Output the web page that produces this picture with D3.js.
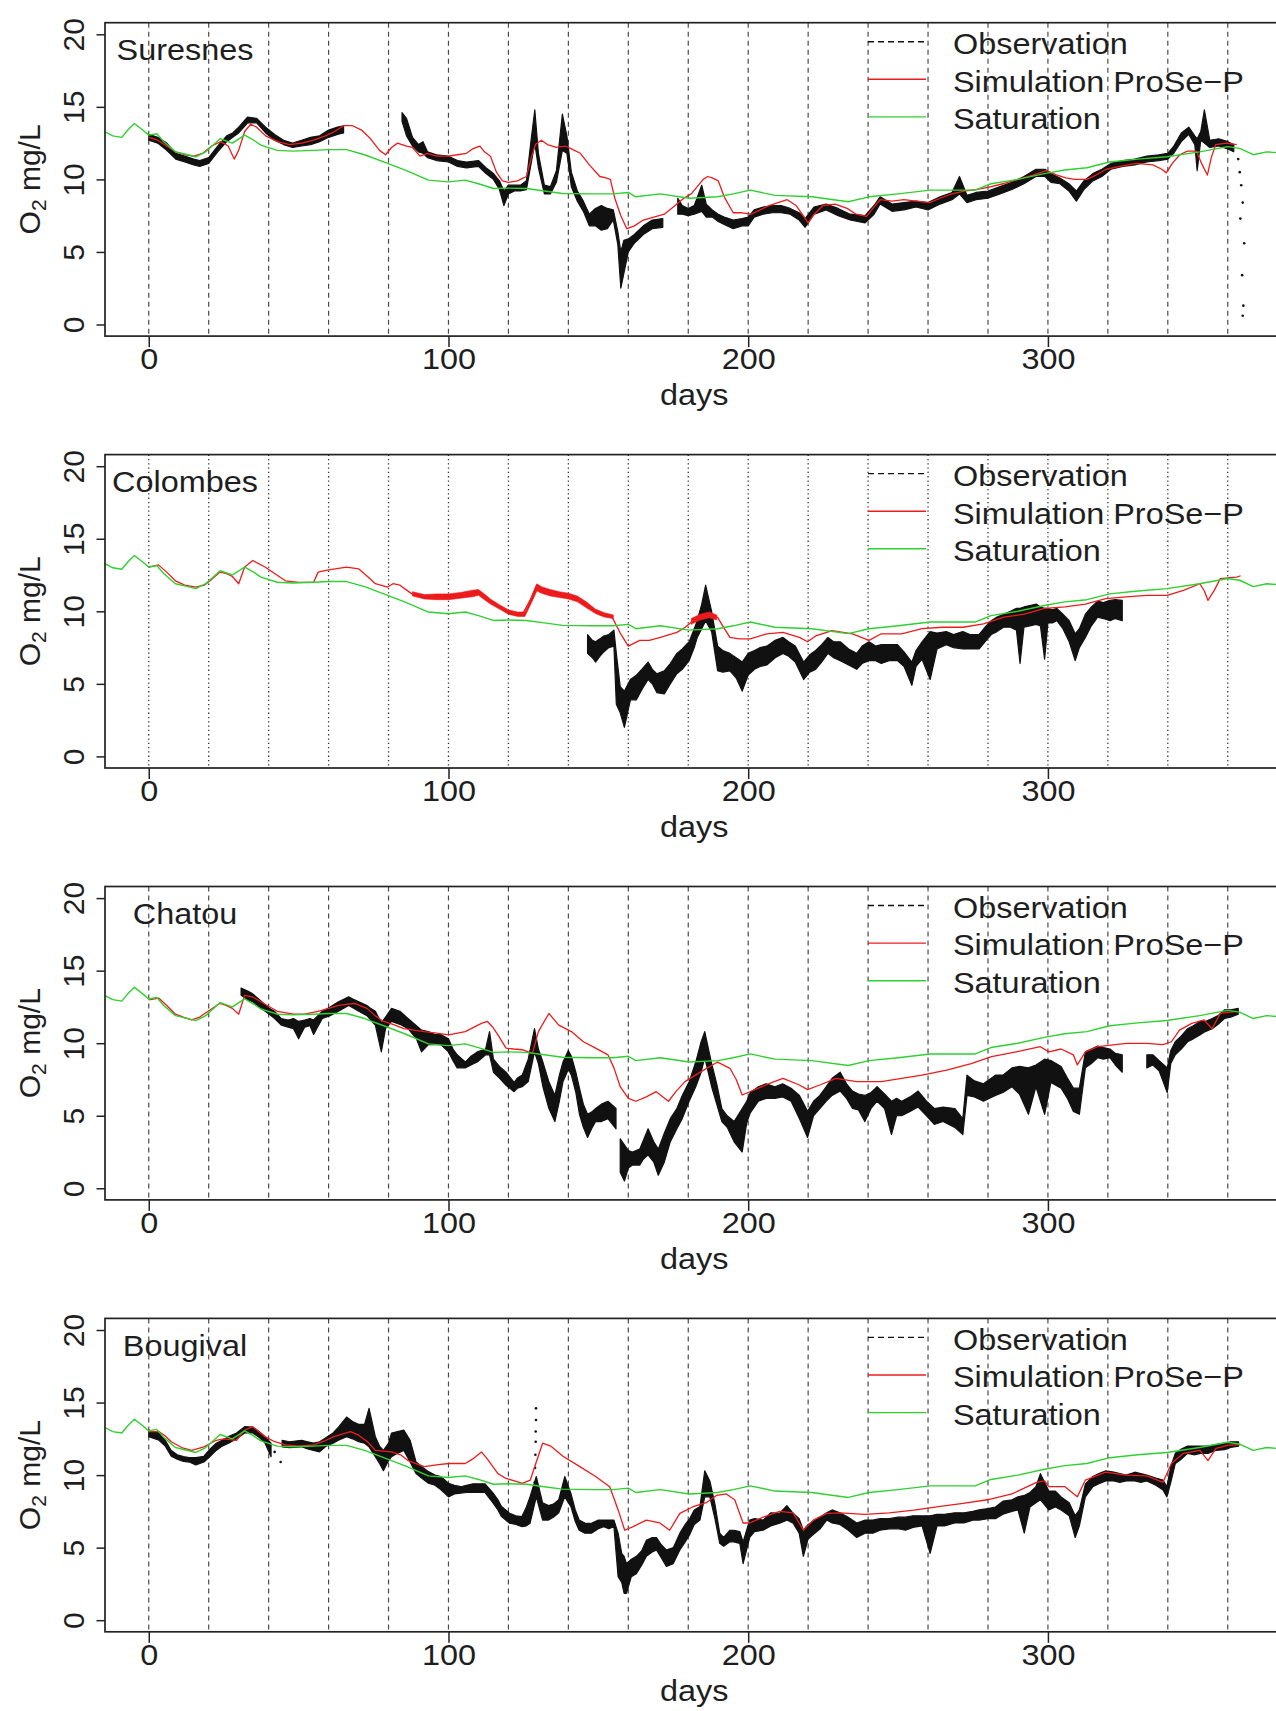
<!DOCTYPE html>
<html><head><meta charset="utf-8">
<script src="https://cdn.jsdelivr.net/npm/d3@7"></script>
<style>body{margin:0;background:#fff}svg{display:block}</style>
</head><body>
<svg id="chart" width="1276" height="1711"></svg>
<script>
// ---------------- DATA ----------------
const stations = ["Suresnes", "Colombes", "Chatou", "Bougival"];
const xTicks = [0, 100, 200, 300];
const yTicks = [0, 5, 10, 15, 20];
const gridDays = [0,20,40,60,80,100,120,140,160,180,200,220,240,260,280,300,320,340,360];
const legendLabels = ["Observation", "Simulation ProSe\u2212P", "Saturation"];
const xLabel = "days";

// Saturation O2 (shared by the four stations) [day, mg/L]
const saturation = [[-14.6,13.28],[-12,13.0],[-9,12.9],[-7,13.4],[-4.8,13.85],[-2,13.4],[0,13.05],[2.7,13.15],[5,12.6],[8.9,11.9],[12,11.75],[15.7,11.56],[19,11.9],[23.8,12.8],[27.9,12.5],[32,13.05],[35,12.7],[37.4,12.36],[42.9,12.0],[48,11.95],[55,12.0],[60,12.05],[66,12.05],[72,11.7],[79.7,11.1],[86,10.6],[93.3,9.95],[100,9.83],[105.6,9.95],[110,9.7],[115,9.37],[120,9.4],[126,9.37],[132,9.2],[138,9.03],[148,9.0],[155,9.0],[160,9.1],[162.5,8.8],[170.7,9.0],[180.3,8.7],[189.8,8.8],[195,9.0],[200.7,9.26],[208.9,8.9],[221.2,8.8],[233.4,8.46],[240.3,8.8],[250,9.0],[260.7,9.26],[275.7,9.26],[281,9.7],[290,10.0],[298.8,10.4],[305.6,10.65],[313,10.8],[320.6,11.2],[330,11.4],[339.7,11.56],[350.6,11.9],[360,12.26],[364,12.14],[368.5,11.7],[373,11.9],[378.6,11.8]];

// Simulation ProSe-P [day, mg/L]
const simSuresnes = [[0,12.9],[3,12.7],[6,12.3],[9,11.9],[12,11.7],[15,11.6],[18,11.8],[21,12.3],[24,12.6],[26.5,12.3],[28.5,11.4],[30,12.0],[32,13.3],[34,13.8],[36,13.6],[39,13.0],[43,12.6],[47,12.4],[51,12.5],[55,12.7],[59,13.0],[62,13.3],[65,13.7],[68,13.7],[71,13.4],[74,12.8],[77,12.0],[79,11.7],[81,12.2],[83,12.5],[86,12.3],[88,12.2],[90.5,11.6],[93,11.8],[96,11.6],[100,11.6],[103,11.7],[106,11.8],[108,12.1],[110.5,12.3],[112,11.9],[114,11.6],[116,10.5],[118,9.9],[120,9.8],[123,9.9],[126,10.2],[127.5,11.4],[129,12.4],[131,12.7],[133,12.4],[136,12.2],[139,12.3],[141,12.1],[144,11.8],[147,11.0],[150.5,10.2],[152.5,10.1],[154,10.0],[155.5,8.7],[157.5,7.5],[159.5,6.6],[162,6.8],[165,7.2],[168.5,7.4],[172,7.6],[175,8.1],[178.5,8.7],[181,9.0],[183,9.5],[185,10.0],[186.5,10.2],[188,10.1],[190,9.9],[192,8.8],[195,7.7],[198,7.7],[201,7.6],[204,7.9],[207,8.2],[210,8.4],[213,8.6],[216,8.2],[218,7.6],[220,7.0],[222,7.6],[225,8.2],[229,8.3],[233,8.0],[236,7.6],[239.5,7.45],[242,8.1],[244,8.6],[248,8.5],[252,8.6],[256,8.5],[260.5,8.4],[264,8.7],[268,9.0],[272,9.2],[276,9.3],[280,9.45],[285,9.7],[290,10.0],[295,10.3],[299.5,10.6],[303,10.3],[306,10.1],[309,10.0],[313,10.0],[316,10.3],[319.5,10.7],[324,10.9],[329.5,11.1],[335,11.0],[338,10.7],[339.5,10.45],[341.5,11.1],[344,11.7],[346.5,11.95],[349.5,11.95],[351.5,11.0],[353.2,10.3],[354.5,11.5],[356,12.4],[359.5,12.5],[363,12.4]];
const simColombes = [[0,13.05],[3.2,13.2],[6,12.7],[8.9,12.1],[12,11.8],[15.7,11.67],[18.5,11.8],[21,12.2],[23.8,12.7],[26,12.6],[27.9,12.4],[30,11.9],[32,13.05],[34.7,13.5],[38.8,13.05],[42,12.6],[45.6,12.1],[50,12.0],[55,12.0],[56.5,12.7],[60,12.85],[66,13.05],[70,12.93],[73,12.4],[75.6,11.9],[79.7,11.67],[81.5,11.9],[83.8,11.8],[87.8,11.2],[91,11.0],[94.6,11.0],[100,11.0],[105.6,11.1],[109.6,11.35],[111.5,11.1],[113.7,10.66],[116,10.4],[119,10.0],[122,9.8],[124.6,9.77],[127.3,10.8],[129.4,11.8],[132.8,11.4],[138.2,11.1],[142,10.9],[146.4,10.3],[150.5,9.77],[154.6,9.6],[157.3,8.5],[160,7.6],[163.8,8.0],[167,8.0],[170.7,8.2],[176.2,8.55],[179,8.9],[181.6,9.35],[184,9.6],[187,9.8],[189.8,9.58],[191.5,9.0],[193.9,8.2],[197,8.1],[200.7,8.1],[206.2,8.45],[211.6,8.55],[217.1,8.2],[219.8,7.9],[222.5,8.3],[228,8.67],[234.8,8.45],[240.3,8.0],[244.4,8.45],[251.2,8.45],[258,8.8],[264.8,8.9],[271.7,8.9],[278.5,9.14],[285.3,9.6],[292.1,9.8],[298.9,10.2],[305.7,10.3],[312.5,10.5],[319.3,10.87],[326.1,11.0],[333,11.1],[339.8,11.1],[345.2,11.44],[350.7,11.9],[352.2,11.4],[353.4,10.75],[355.5,11.44],[357.5,12.25],[360,12.3],[363,12.36],[364.3,12.45]];
const simChatou = [[0,12.98],[3.4,13.1],[6,12.6],[8.9,12.0],[11.5,11.8],[14.3,11.6],[17,11.8],[19.8,12.2],[23.8,12.75],[25.8,12.6],[27.9,12.4],[30,12.0],[32,13.3],[34.5,13.2],[37.4,12.86],[42.9,12.2],[48.3,12.0],[52,12.0],[56.5,12.2],[60,12.4],[63.3,12.6],[68.7,12.75],[72.8,12.4],[75.5,11.9],[78.3,11.5],[81.5,11.3],[85.1,11.0],[91.9,10.8],[96,10.7],[100,10.57],[105.6,10.8],[111,11.37],[113,11.5],[114.8,11.1],[116.5,10.57],[119.2,9.66],[121.8,9.6],[124.6,9.55],[128,9.3],[130,10.8],[133.5,12.05],[136.8,11.25],[141,10.8],[145,10.1],[149.1,9.66],[153.2,9.2],[155.2,8.3],[157.3,7.0],[160,6.2],[162.5,6.0],[166,6.3],[169.3,6.66],[173.4,6.0],[176,6.7],[178.9,7.35],[184.3,8.04],[189.8,8.7],[193.9,8.27],[196,7.5],[198,6.43],[203.4,6.9],[208,7.3],[211.6,7.58],[217.1,7.12],[219.8,6.8],[223.9,7.12],[229.3,7.58],[236.2,7.35],[244.4,7.35],[251.2,7.58],[258,7.8],[266.2,8.15],[274.4,8.6],[281.2,9.07],[289.4,9.4],[297.5,9.76],[300.3,9.4],[304.4,9.6],[308.5,9.2],[309.8,8.5],[312.5,9.4],[316.6,9.76],[326.2,9.99],[333,9.99],[338.4,9.9],[341.2,10.1],[343.9,10.9],[348,11.37],[352.1,11.6],[354.8,11.0],[357.5,12.06],[363,12.2]];
const simBougival = [[0,13.0],[3.4,13.0],[5.5,12.7],[7.5,12.3],[11,11.9],[14.3,11.7],[18.4,11.95],[22.5,12.4],[25,12.5],[29.3,12.4],[32,13.1],[34.7,13.34],[38.8,12.65],[42,12.3],[45.6,12.08],[50,12.0],[55,12.08],[58,12.3],[61.8,12.65],[67.3,13.0],[70,12.75],[73,12.3],[75.6,11.7],[81,11.6],[84,11.4],[86.5,11.0],[91.9,10.58],[96,10.7],[100,10.8],[105.6,10.8],[108,11.1],[111,11.6],[113,11.1],[116.5,10.1],[119.2,9.77],[122,9.6],[124.6,9.43],[127.3,9.66],[129.3,10.9],[131.4,12.2],[134.1,12.0],[138.2,11.3],[143.7,10.6],[149.1,9.9],[153.8,9.2],[156.6,7.6],[158.8,6.2],[161.6,6.45],[166,6.9],[170.5,6.7],[173.8,6.2],[177.2,7.36],[181.6,7.82],[186,8.1],[189.4,8.6],[192.7,8.7],[195.5,8.3],[198.3,6.7],[200.5,6.7],[205,7.1],[210.5,7.5],[215,7.4],[218.4,6.2],[221.7,6.9],[226.2,7.36],[230.6,7.4],[238.9,7.3],[247.1,7.4],[255.3,7.59],[263.5,7.82],[271.7,8.05],[279.8,8.3],[288,8.7],[296.2,9.5],[298.9,9.6],[300.3,9.2],[305.7,9.2],[309.8,8.5],[312.5,9.66],[319.3,10.2],[326.1,10.0],[333,9.95],[338.4,9.5],[341.2,10.8],[345.2,11.5],[350.7,11.7],[353.4,11.0],[356.1,11.85],[360.2,12.07],[364.3,12.1]];
// noisy part of the Colombes simulation [day, low, high]
const simBandColombes = [[88,11.05,11.35],[92,10.85,11.15],[96,10.8,11.2],[100,10.8,11.2],[104,10.9,11.3],[108,11.0,11.45],[110,11.1,11.5],[112,10.8,11.2],[114,10.5,10.85],[117,10.15,10.45],[120,9.8,10.1],[123,9.65,9.95],[125.5,9.65,9.95],[127.5,10.5,10.9],[129.5,11.4,11.9],[131,11.25,11.7],[134,11.05,11.5],[137,10.95,11.35],[140,10.85,11.25],[143,10.65,11.05],[146,10.25,10.65],[149,9.85,10.15],[152,9.6,9.9],[155,9.5,9.75],null,[181,9.1,9.5],[184,9.4,9.8],[187,9.55,9.95],[189.5,9.4,9.75]];

// Observations: envelope of the high-frequency record [day, low, high]; null = gap
const obsSuresnes = [[0,12.7,13.1],[3,12.5,12.9],[6,12.0,12.5],[9,11.4,11.8],[12,11.2,11.6],[15,11.0,11.4],[17,10.9,11.3],[20,11.1,11.5],[23,11.9,12.3],[26,12.6,13.0],[28,12.9,13.2],[30,13.2,13.6],[33,13.9,14.3],[36,13.9,14.2],[39,13.2,13.6],[42,12.7,13.1],[45,12.4,12.7],[48,12.2,12.5],[51,12.3,12.7],[54,12.4,12.9],[57,12.6,13.0],[60,12.9,13.4],[63,13.1,13.6],[65,13.2,13.7],null,
[84.5,14.0,14.6],[86,13.0,14.2],[88,12.3,12.9],[90,11.9,12.4],[91.5,11.8,12.6],[93,11.5,11.9],[96,11.3,11.7],[100,11.2,11.6],[103,10.9,11.3],[106,10.8,11.2],[110,10.9,11.3],[112.5,10.4,10.8],[115,10.0,10.4],[117,9.3,9.9],[118.5,8.2,9.2],[120,9.0,9.6],[122,9.2,9.6],[124,9.2,9.6],[126,9.3,9.9],[127.5,11.0,12.6],[128.8,12.5,14.8],[130,10.8,11.8],[132,9.0,9.6],[134,9.0,9.5],[136,9.8,10.6],[138,12.0,14.5],[139.5,11.8,13.0],[141,9.5,10.5],[143,8.5,9.2],[145,7.8,8.5],[147,6.8,7.6],[149,6.8,8.0],[151,6.5,8.2],[153,6.6,8.0],[155,7.2,7.9],[156.5,5.5,6.4],[157.5,2.5,5.0],[158.5,3.5,5.8],[160,5.0,5.9],[162,5.6,6.2],[165,6.2,6.8],[168,6.6,7.2],[171.5,6.7,7.3],null,
[176.5,7.6,8.7],[178,7.6,8.2],[180,7.5,8.0],[182,7.6,8.2],[184.5,7.8,9.6],[186,7.4,8.3],[188,7.4,7.9],[190,7.1,7.6],[192,6.9,7.4],[195,6.6,7.2],[198,6.8,7.3],[200,6.8,7.4],[202,7.4,7.9],[205,7.6,8.1],[208,7.7,8.2],[211,7.7,8.2],[214,7.6,8.0],[217,7.2,7.7],[219,6.7,7.3],[222,7.6,8.1],[226,7.9,8.3],[230,7.5,8.0],[234,7.2,7.6],[239,7.0,7.5],[242,7.6,8.2],[244,8.3,8.8],[248,7.8,8.3],[252,7.9,8.4],[256,8.1,8.5],[260,7.9,8.4],[264,8.3,8.8],[268,8.6,9.1],[270.5,9.0,10.2],[273,8.4,8.9],[276,8.6,9.1],[280,8.7,9.2],[284,9.0,9.5],[288,9.3,9.8],[292,9.7,10.2],[296,10.2,10.7],[299,10.2,10.7],[301,9.8,10.4],[304,9.7,10.1],[307,9.2,9.7],[309.5,8.5,9.2],[312,9.3,9.9],[315,9.9,10.4],[318,10.2,10.7],[321,10.7,11.1],[325,10.9,11.3],[329,11.0,11.4],[333,11.2,11.6],[337,11.3,11.7],[340,11.4,11.8],[342,11.8,12.3],[344.5,12.6,13.2],[347,13.1,13.6],[349,12.4,13.0],[349.8,10.6,12.8],[351,12.7,13.3],[352.2,12.5,14.8],[354,12.2,12.7],[357,12.3,12.8],[360,12.1,12.6],[362,11.9,12.4]];
const obsColombes = [[146.4,7.1,8.4],[148,6.8,8.0],[149.1,6.5,7.9],[150.5,6.9,8.1],[151.8,7.2,8.3],[153.5,7.5,8.4],[155.2,7.6,8.7],[156,3.6,7.1],[157.3,3.0,4.8],[158.7,2.0,4.5],[160.7,3.9,5.3],[162.7,3.9,5.6],[164.5,4.6,6.0],[166.6,5.3,6.5],[168,5.0,6.0],[169.5,4.4,5.7],[172,4.3,5.9],[174,5.0,6.4],[176.2,5.7,7.1],[178,6.0,7.4],[180.3,6.6,7.9],[182,7.5,8.8],[183,8.2,9.35],[184.5,8.8,10.5],[185.8,9.35,11.8],[187.8,8.6,10.0],[189.8,5.9,7.6],[191.5,5.8,7.3],[193.9,5.9,7.1],[196,5.4,6.8],[198,4.5,6.5],[200,5.6,7.1],[202.1,6.0,7.3],[204,6.2,7.5],[206.2,6.3,7.6],[209,6.8,8.0],[211.6,7.1,8.2],[213.5,6.9,7.9],[215.7,6.5,7.6],[218.5,5.3,6.5],[220.5,5.8,7.0],[222.5,6.0,7.3],[224.5,6.5,7.7],[226.6,7.1,8.2],[228.5,6.8,7.9],[230.7,6.6,7.9],[233.5,6.3,7.4],[236.2,6.0,7.1],[238,6.4,7.6],[240.3,6.6,7.9],[242.5,6.6,7.6],[244.4,6.4,7.7],[247,6.6,7.7],[249.8,6.6,7.7],[252,6.2,7.2],[254.6,4.9,6.5],[256,6.2,7.3],[258,6.7,7.9],[260.7,5.3,8.6],[263,7.4,8.5],[266.1,7.7,8.6],[268.5,7.5,8.4],[271.6,7.4,8.6],[274,7.4,8.4],[277,7.4,8.4],[279,7.9,8.9],[281.1,8.4,9.35],[283,8.6,9.6],[285.2,8.9,9.8],[287.5,8.9,10.0],[289.5,8.7,10.2],[290.7,6.4,10.2],[292,8.9,10.3],[294,9.0,10.4],[296.1,9.1,10.5],[297.5,9.0,10.3],[298.9,6.7,10.2],[300,9.2,10.2],[301.5,9.2,10.1],[303,9.35,10.2],[305,8.8,9.8],[307.1,7.9,9.35],[309.1,6.6,8.45],[310.5,7.5,8.8],[312.5,8.2,9.8],[314.5,9.0,10.3],[316.6,9.6,10.7],[318.5,9.5,10.6],[320.7,9.35,10.75],[322.5,9.5,10.8],[324.8,9.35,10.75]];
const obsChatou = [[30.8,13.3,13.8],[33,13.0,13.6],[34.7,12.86,13.4],[37.5,12.4,12.9],[40.2,12.0,12.4],[42,11.7,12.2],[44.2,11.25,11.7],[46.5,11.1,11.6],[48.3,11.0,11.7],[50,10.3,11.5],[52,11.1,11.6],[53.8,11.2,11.7],[55,10.6,11.6],[57.9,11.7,12.2],[60.5,11.9,12.5],[63.3,12.2,12.86],[66.7,12.6,13.2],[68.5,12.4,13.0],[70.1,12.2,12.86],[72.8,11.9,12.6],[74,11.6,12.4],[75.6,11.25,12.2],[77.6,9.4,11.4],[79,11.0,11.8],[81,11.5,12.4],[83.8,11.3,12.2],[86.5,11.0,11.7],[89.3,10.3,11.2],[91,9.4,10.9],[93.3,9.9,10.8],[95.5,9.9,10.6],[97.4,9.9,10.6],[100,9.4,10.3],[101.5,8.8,9.6],[102.9,8.3,9.2],[105.6,8.3,8.7],[107.5,8.5,9.1],[109.6,8.7,9.4],[112.4,9.2,9.6],[113.7,9.2,10.8],[115,8.0,8.9],[117,7.6,8.4],[119.2,7.1,8.0],[121.9,6.66,7.3],[123,6.9,7.6],[124.6,7.0,7.8],[126.6,7.35,8.9],[128.7,9.4,11.0],[130,8.6,9.6],[131.5,7.0,8.7],[133.5,5.5,7.35],[135.5,4.6,6.4],[137,6.0,7.8],[138.2,7.35,8.7],[140,8.2,9.5],[141,7.8,9.1],[142.5,6.6,8.0],[143.7,5.1,6.9],[145,4.2,5.8],[146.4,3.5,5.1],[148,4.2,5.3],[149.1,4.6,5.5],[151,4.6,5.8],[153.2,4.8,6.0],[155.9,4.1,5.5],null,
[157.3,1.1,3.4],[158.7,0.5,3.0],[160,1.4,2.6],[161.4,1.6,2.5],[163.8,1.6,2.7],[165,2.0,3.3],[166.6,2.3,4.1],[168.5,1.8,3.2],[170,0.9,2.7],[172,1.8,3.8],[174,3.2,4.8],[176.2,4.1,5.5],[178,4.8,6.4],[180.3,6.0,7.35],[182.5,7.0,8.7],[184.3,8.0,10.1],[185.5,9.0,10.8],[187.8,7.0,8.6],[189.5,5.8,7.2],[191.2,4.6,5.5],[193,4.2,5.0],[195.3,3.2,4.6],[198,2.5,5.5],[199.5,4.5,6.0],[200.7,5.2,6.6],[203.4,6.0,7.0],[206,6.2,7.2],[208.9,6.2,7.0],[211.5,6.3,7.2],[214.3,6.0,6.9],[217.1,4.8,6.4],[219.8,3.5,5.3],[221.8,5.0,6.0],[223.9,5.5,6.4],[226,6.0,7.0],[228,6.4,7.58],[230.7,6.7,8.0],[232.8,6.2,7.2],[234.8,5.5,6.7],[236.8,5.4,6.5],[238.9,4.6,6.4],[241,5.5,6.6],[243,6.0,7.0],[245.5,5.5,6.5],[247.8,3.7,6.0],[249.5,5.0,6.2],[251.2,5.0,6.0],[254,5.3,6.3],[256.7,5.6,6.7],[259.5,5.0,6.0],[262.1,4.4,5.5],[265,4.6,5.6],[268.9,4.2,5.5],[271.6,3.7,4.8],[273,6.4,7.8],[275.5,6.3,7.4],[278.5,6.0,7.2],[282.5,6.4,7.8],[285,6.6,7.8],[288,7.0,8.3],[290.5,6.5,8.4],[293.5,5.1,8.3],[296,7.0,8.5],[298.9,5.1,8.9],[301,7.3,8.8],[304.4,6.9,8.4],[306.5,6.2,7.6],[308.5,5.3,6.9],[310.5,5.1,6.9],[312.5,8.3,9.4],[314.5,8.6,9.6],[316.6,9.0,9.8],[318.5,8.9,9.7],[320.7,9.0,9.6],[322.5,8.5,9.3],[324.8,8.0,9.2],null,
[333,8.3,9.2],[335,8.5,9.2],[337.1,8.1,8.8],[339.8,6.6,8.3],[341,8.6,9.5],[342.5,9.2,10.1],[344.5,9.6,10.5],[346.6,10.1,11.0],[348.5,10.3,11.2],[350.7,10.57,11.5],[352.5,10.8,11.5],[354.8,11.0,11.7],[356.8,11.3,11.9],[358.9,11.7,12.3],[361,11.8,12.3],[363.5,12.0,12.4]];
const obsBougival = [[0,12.65,13.1],[3.4,12.4,12.9],[5.5,12.0,12.4],[7.5,11.3,11.7],[9.5,11.1,11.4],[11.6,10.94,11.27],[13.5,10.9,11.2],[15.7,10.7,11.2],[18.4,10.9,11.3],[20.5,11.3,11.8],[22.5,11.7,12.2],[24.5,12.0,12.4],[26.6,12.2,12.65],[29.3,12.5,12.9],[32,12.9,13.34],[34.7,12.9,13.3],[36.8,12.6,13.0],[38.8,12.2,12.65],[40.8,11.27,12.2],null,
[44.5,11.95,12.4],[47,11.9,12.3],[51,11.95,12.4],[53,11.8,12.3],[55,11.7,12.2],[57,11.6,12.3],[59.2,12.0,12.6],[61.5,12.2,12.9],[63.3,12.4,13.3],[66,12.65,14.0],[68,12.5,13.7],[70,12.3,13.5],[72,12.2,13.5],[73.5,11.95,14.6],[75.6,11.27,12.65],[77,10.8,12.0],[78.3,10.3,11.7],[80,11.0,12.2],[81,11.27,12.9],[83,11.5,13.0],[85.1,11.7,13.1],[87.2,10.9,12.4],[89.2,10.1,10.9],[91,9.8,10.6],[93.3,9.44,10.24],[95.5,9.3,10.0],[97.4,9.0,9.9],[100,8.5,9.44],[102,8.7,9.3],[104.1,8.76,9.2],[106,8.8,9.3],[108.2,8.8,9.4],[110,8.8,9.4],[112.2,8.8,9.4],[114.9,8.07,8.76],[116.5,7.6,8.3],[117.7,7.14,7.83],[120.4,6.68,7.37],[122.5,6.6,7.2],[124.5,6.45,7.14],[126,6.5,7.8],[127.2,6.68,8.5],[129.3,8.5,9.9],[131.4,6.9,8.1],[133.4,6.9,7.9],[135,7.1,8.0],[136.8,7.4,8.3],[138.8,8.5,9.9],[140.9,7.8,8.7],[142.3,6.8,7.6],[143.6,6.2,6.9],[145.5,6.0,6.7],[147.7,6.0,6.68],[150,6.3,6.9],[151.8,6.45,6.9],[153.5,6.3,6.9],[155.2,6.45,6.9],[156.6,3.0,6.0],[157.8,2.6,4.6],[158.6,1.85,4.4],[159.4,1.85,3.9],[161,3.0,4.2],[162.7,3.2,4.4],[164.5,3.8,4.8],[166,4.4,5.5],[168,4.7,5.7],[169.4,4.84,5.7],[171,4.3,5.2],[172.7,3.7,4.84],[175,3.9,5.0],[177.2,4.84,6.0],[179,5.4,6.6],[180.5,5.9,7.0],[182,6.6,7.6],[183.9,6.9,7.83],[185.5,8.5,10.3],[187.2,8.5,9.6],[188.9,7.0,8.0],[190.5,5.3,6.0],[191.8,5.1,5.7],[193.9,5.4,6.2],[195.2,5.4,6.2],[197.2,5.3,6.1],[198.3,3.9,5.4],[200.5,5.7,6.9],[202.1,6.1,7.0],[205,6.2,6.9],[207.5,6.5,7.4],[210.5,6.68,7.37],[212.9,6.9,7.9],[215,6.68,7.37],[217,6.0,7.0],[218.4,4.4,6.2],[220,5.6,6.6],[221.7,5.9,6.8],[224,6.3,7.1],[226.2,6.9,7.4],[228,6.7,7.6],[230.6,6.6,7.4],[233.4,6.2,7.1],[236.2,5.7,6.7],[239,6.0,6.9],[241.6,6.0,6.9],[244,6.2,7.0],[247.1,6.3,7.0],[250,6.3,7.1],[252.5,6.2,7.1],[255,6.4,7.2],[258,6.5,7.2],[260.7,4.6,7.2],[263,6.5,7.3],[265.5,6.5,7.3],[268.9,6.7,7.4],[272,6.7,7.4],[275,6.9,7.5],[277,6.9,7.6],[280,7.0,7.7],[282.5,7.0,7.8],[285,7.3,8.2],[288,7.5,8.3],[290,7.6,8.5],[292.1,6.0,8.6],[294,7.8,8.8],[296,8.1,9.2],[297.5,8.3,10.1],[300.3,7.6,8.9],[302.5,7.8,8.9],[304.4,7.6,8.5],[307.1,7.2,8.1],[309.1,5.7,7.2],[310.5,6.5,7.6],[312.5,8.5,9.4],[315,9.2,9.9],[317,9.4,10.1],[319.3,9.6,10.3],[322,9.6,10.2],[324,9.5,10.1],[326.1,9.6,10.0],[329,9.6,10.2],[331,9.5,10.1],[333,9.6,10.0],[336,9.3,9.8],[338.4,8.98,9.66],[339.7,8.5,9.2],[341,9.5,10.6],[342.5,10.8,11.5],[344.5,11.1,11.8],[346.6,11.5,12.0],[349,11.4,12.0],[351,11.5,12.0],[353.4,11.5,12.0],[356,11.7,12.1],[358.9,11.75,12.2],[361,11.9,12.3],[363.6,12.0,12.3]];
// sparse isolated observation points [day, mg/L]
const dotsSuresnes = [[363.5,11.4],[364,10.5],[364.5,9.6],[365,8.4],[364.2,7.3],[365.5,5.6],[364.8,3.4],[365.2,1.3],[365,0.6]];
const dotsColombes = [];
const dotsChatou = [];
const dotsBougival = [[42,11.6],[44,10.9],[128.8,9.5],[128.9,10.5],[129,11.4],[129.1,12.3],[129.1,13.0],[129.2,13.8],[129.2,14.6]];

const obsByStation = [obsSuresnes, obsColombes, obsChatou, obsBougival];
const simByStation = [simSuresnes, simColombes, simChatou, simBougival];
const dotsByStation = [dotsSuresnes, dotsColombes, dotsChatou, dotsBougival];
const simBandByStation = [null, simBandColombes, null, null];
const gridStyle = ["dashed", "dotted", "dashed", "dashed"];

// ---------------- LAYOUT ----------------
const FONT = "'Liberation Sans', Arial, Helvetica, sans-serif";
const TXT = "#1e1e1e";
const STRETCH = 1.08;           // the original picture is slightly wider than tall
const LEFT = 105, RIGHT = 1283.5;
const PANEL_H = 313.4, FIRST_TOP = 22.7, STEP = 431.9;
const RED = "#ec1c1c", GREEN = "#2fd02f", BLACK = "#111";

const svg = d3.select("#chart");
svg.append("rect").attr("width", 1276).attr("height", 1711).attr("fill", "#fff");
const x = d3.scaleLinear().domain([-14.6, 378.6]).range([LEFT, RIGHT]);

function hText(parent, tx, ty, anchor, str) {
  return parent.append("text")
    .attr("transform", `translate(${tx},${ty}) scale(${STRETCH},1)`)
    .attr("text-anchor", anchor).attr("fill", TXT)
    .style("font-family", FONT).style("font-size", "30px").text(str);
}

stations.forEach((name, i) => {
  const top = FIRST_TOP + STEP * i, bottom = top + PANEL_H;
  const y = d3.scaleLinear().domain([-0.8, 20.8]).range([bottom, top]);
  const g = svg.append("g");

  const clipId = "clip" + i;
  svg.append("clipPath").attr("id", clipId).append("rect")
    .attr("x", LEFT).attr("y", top).attr("width", RIGHT - LEFT).attr("height", PANEL_H);
  const plot = g.append("g").attr("clip-path", `url(#${clipId})`);

  // vertical reference lines every 20 days
  plot.selectAll("line.grid").data(gridDays).join("line")
    .attr("x1", d => x(d)).attr("x2", d => x(d)).attr("y1", top).attr("y2", bottom)
    .attr("stroke", gridStyle[i] === "dotted" ? "#333" : "#4a4a4a")
    .attr("stroke-width", gridStyle[i] === "dotted" ? 1.3 : 1.2)
    .attr("stroke-dasharray", gridStyle[i] === "dotted" ? "1.3,3" : "5,4");

  // observation envelope
  const area = d3.area().defined(d => d !== null)
    .x(d => x(d[0])).y0(d => y(d[1])).y1(d => y(d[2]));
  plot.append("path").datum(obsByStation[i]).attr("d", area)
    .attr("fill", BLACK).attr("stroke", BLACK).attr("stroke-width", 1.2).attr("stroke-linejoin", "round");
  plot.selectAll("circle.dot").data(dotsByStation[i]).join("circle")
    .attr("cx", d => x(d[0])).attr("cy", d => y(d[1])).attr("r", 1.3).attr("fill", BLACK);

  // simulation
  const line = d3.line().x(d => x(d[0])).y(d => y(d[1]));
  if (simBandByStation[i]) {
    plot.append("path").datum(simBandByStation[i]).attr("d", area)
      .attr("fill", RED).attr("stroke", RED).attr("stroke-width", 0.6);
  }
  plot.append("path").datum(simByStation[i]).attr("d", line)
    .attr("fill", "none").attr("stroke", RED).attr("stroke-width", 1.3).attr("stroke-linejoin", "round");

  // saturation
  plot.append("path").datum(saturation).attr("d", line)
    .attr("fill", "none").attr("stroke", GREEN).attr("stroke-width", 1.4).attr("stroke-linejoin", "round");

  // box
  g.append("rect").attr("x", LEFT).attr("y", top).attr("width", RIGHT - LEFT).attr("height", PANEL_H)
    .attr("fill", "none").attr("stroke", "#222").attr("stroke-width", 1.7);

  // y axis
  const ya = g.append("g").attr("transform", `translate(${LEFT},0)`)
    .call(d3.axisLeft(y).tickValues(yTicks).tickSize(8.5).tickFormat(d3.format("d")));
  ya.select(".domain").remove();
  ya.selectAll(".tick line").attr("stroke", "#222").attr("stroke-width", 1.5);
  ya.selectAll(".tick text").attr("x", 0).attr("dy", 0)
    .attr("transform", "translate(-21.5,0) rotate(-90)")
    .attr("text-anchor", "middle").attr("fill", TXT)
    .style("font-family", FONT).style("font-size", "30px");

  // x axis
  const xa = g.append("g").attr("transform", `translate(0,${bottom})`)
    .call(d3.axisBottom(x).tickValues(xTicks).tickSize(11).tickPadding(0.5).tickFormat(d3.format("d")));
  xa.select(".domain").remove();
  xa.selectAll(".tick line").attr("stroke", "#222").attr("stroke-width", 1.5);
  xa.selectAll(".tick text").attr("fill", TXT).attr("transform", `scale(${STRETCH},1)`)
    .style("font-family", FONT).style("font-size", "30px");

  // axis titles
  hText(g, (LEFT + RIGHT) / 2, bottom + 69, "middle", xLabel);
  const yt = g.append("text")
    .attr("transform", `translate(40,${(top + bottom) / 2}) rotate(-90)`)
    .attr("text-anchor", "middle").attr("fill", TXT)
    .style("font-family", FONT).style("font-size", "30px");
  yt.append("tspan").text("O");
  yt.append("tspan").attr("dy", 6).style("font-size", "21px").text("2");
  yt.append("tspan").attr("dy", -6).text(" mg/L");

  // station name
  hText(g, 185, top + 37.3, "middle", name);

  // legend
  const legendStyles = [
    {stroke: BLACK, dash: "6,4"},
    {stroke: RED, dash: null},
    {stroke: GREEN, dash: null}
  ];
  legendLabels.forEach((lab, k) => {
    const ly = top + 19 + 37.6 * k;
    g.append("line").attr("x1", 868).attr("x2", 926).attr("y1", ly).attr("y2", ly)
      .attr("stroke", legendStyles[k].stroke).attr("stroke-width", 1.4)
      .attr("stroke-dasharray", legendStyles[k].dash);
    hText(g, 953, ly + 12.3, "start", lab);
  });
});
</script>
</body></html>
